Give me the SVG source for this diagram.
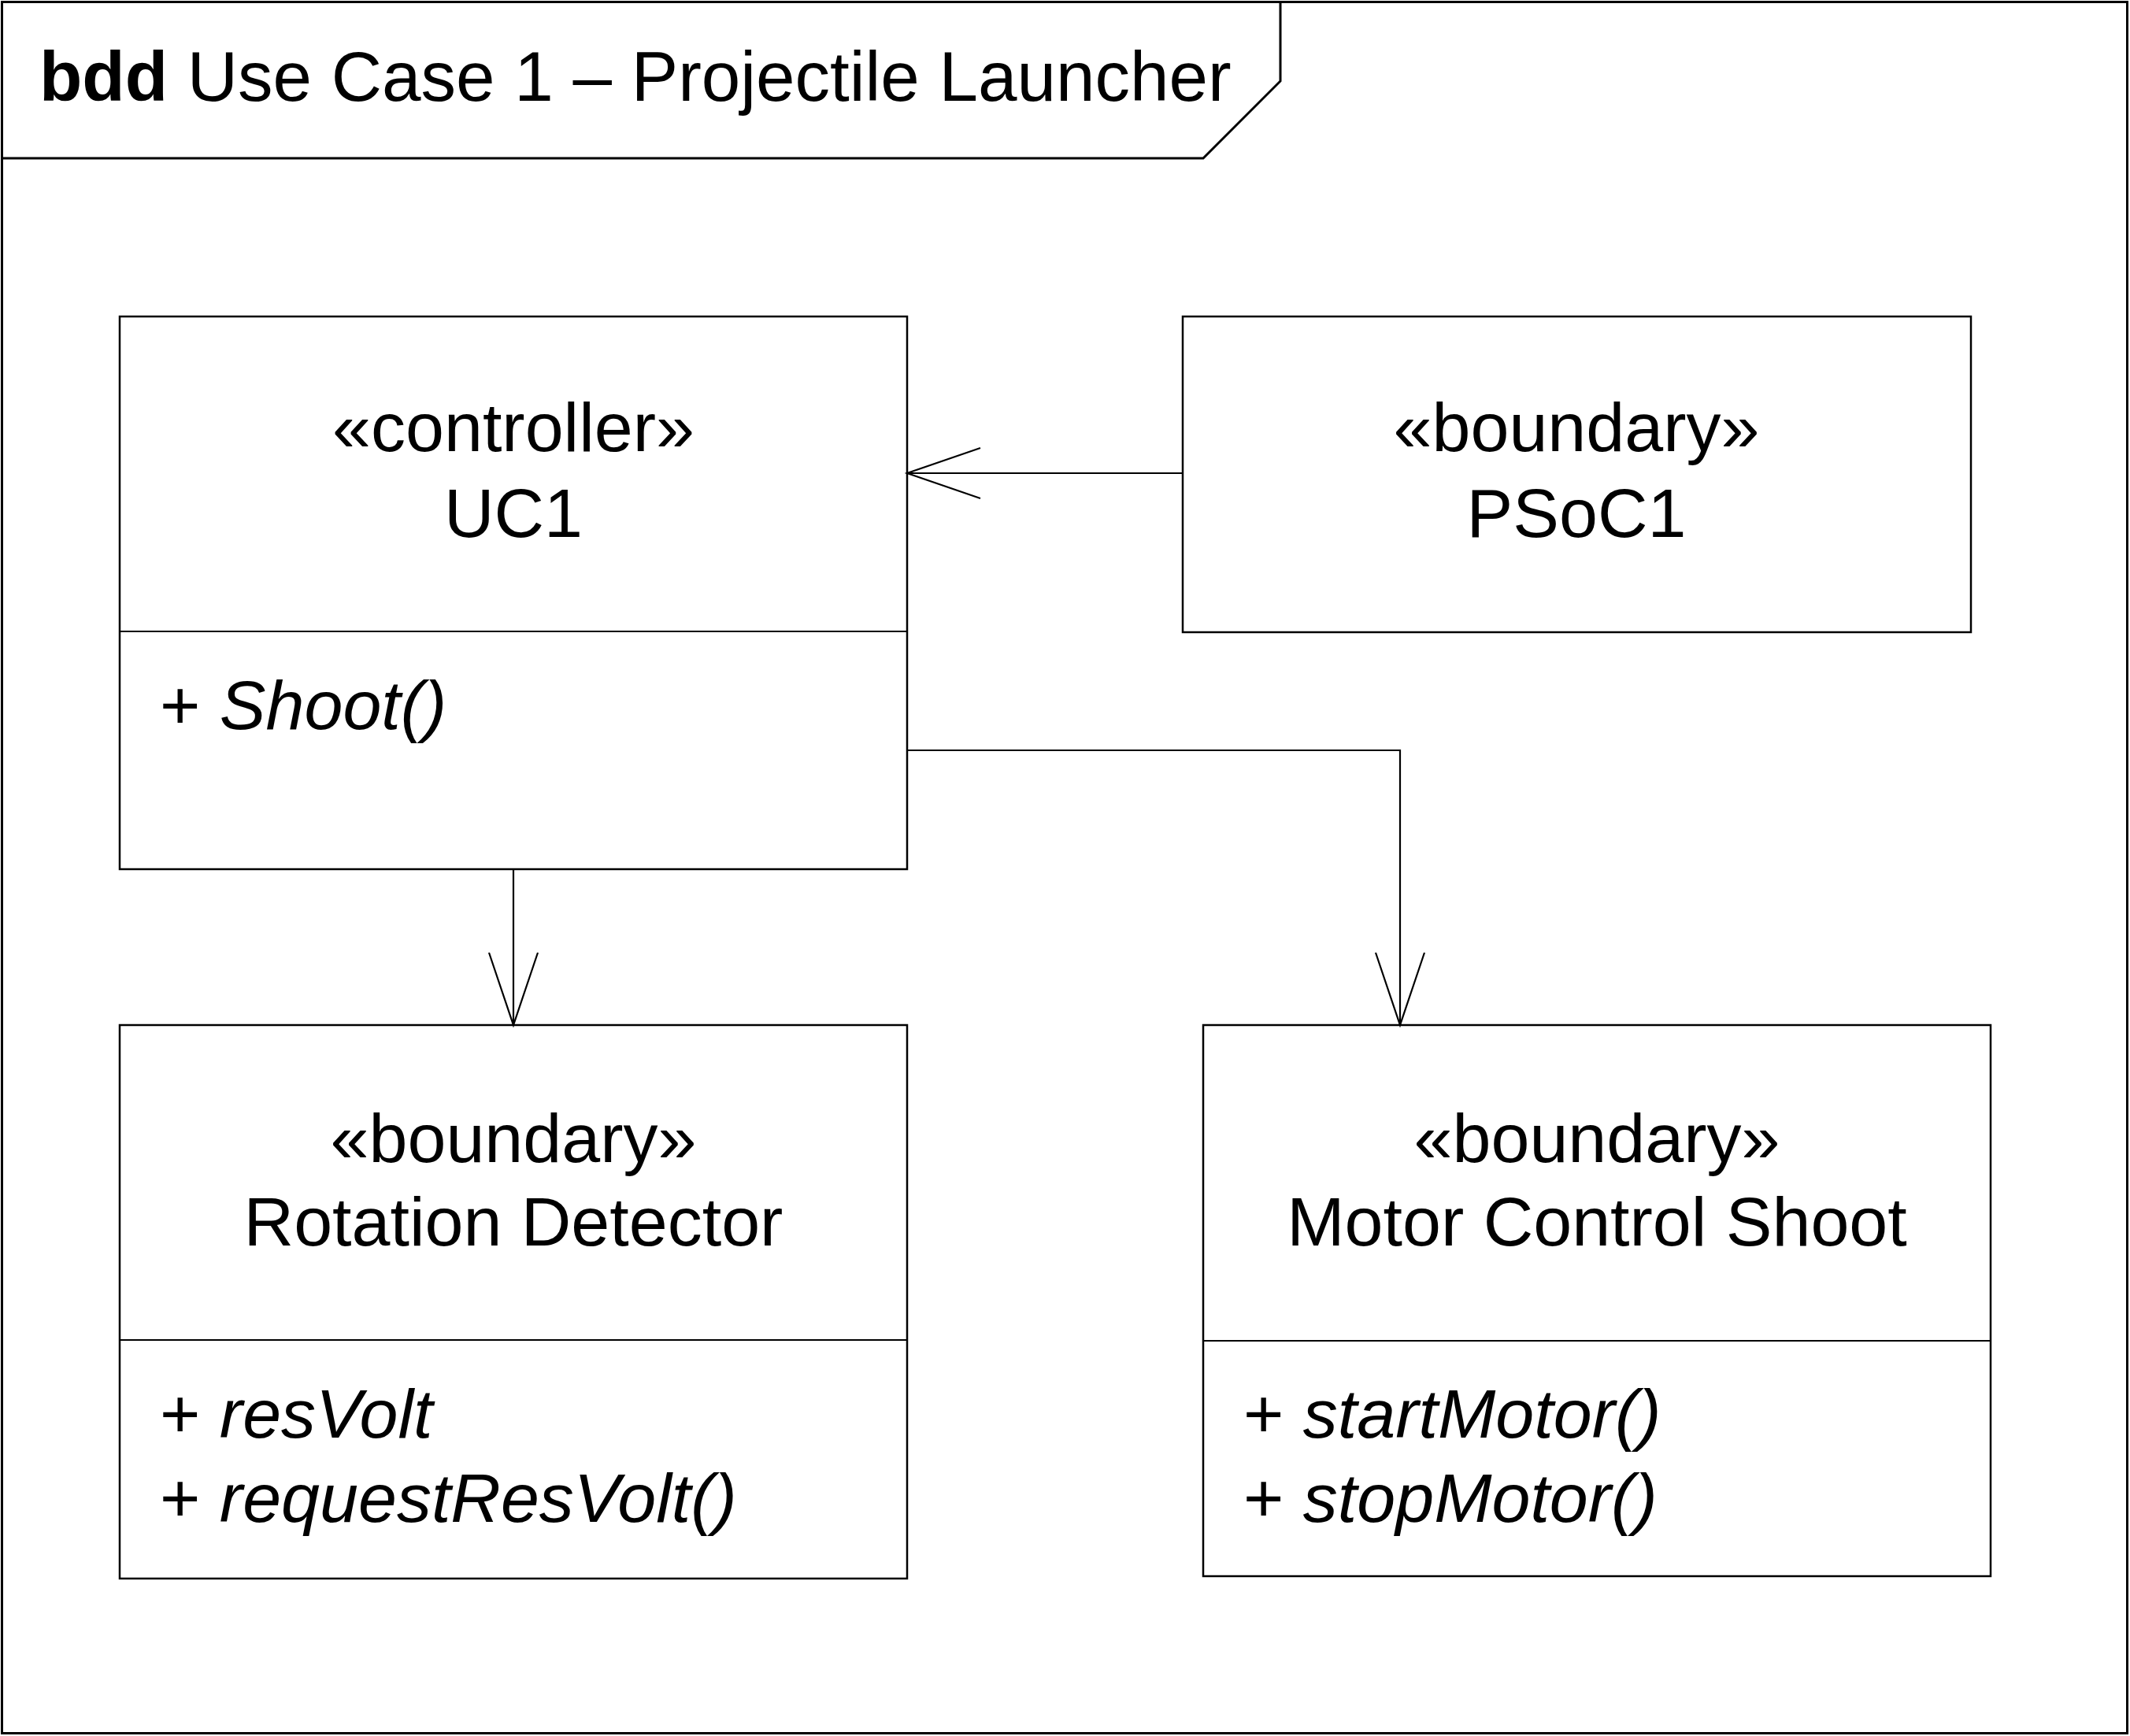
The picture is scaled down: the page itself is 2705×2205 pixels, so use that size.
<svg xmlns="http://www.w3.org/2000/svg" width="2705" height="2205" viewBox="0 0 2705 2205">
<style>
.box{fill:#fff;stroke:#000;stroke-width:2.5}
.div{stroke:#000;stroke-width:2;fill:none}
.conn{stroke:#000;stroke-width:2.2;fill:none}
text{font-family:"Liberation Sans",Arial,sans-serif;font-size:88px;fill:#000}
.c{text-anchor:middle}
.it{font-style:italic}
</style>
<rect width="2705" height="2205" fill="#fff"/>
<g id="frame">
<rect x="2.5" y="2.5" width="2699" height="2199" fill="none" stroke="#000" stroke-width="3"/>
<path d="M2.5 201 H1528 L1626 103 V2.5" fill="none" stroke="#000" stroke-width="3"/>
<text x="50" y="128" style="font-size:89px"><tspan font-weight="bold">bdd</tspan> Use Case 1 – Projectile Launcher</text>
</g>
<g id="uc1">
<rect class="box" x="152" y="402" width="1000" height="702"/>
<line class="div" x1="152" y1="802" x2="1152" y2="802"/>
<text class="c" x="652" y="573">«controller»</text>
<text class="c" x="652" y="682">UC1</text>
<text x="203" y="926">+ <tspan class="it">Shoot()</tspan></text>
</g>
<g id="psoc1">
<rect class="box" x="1502" y="402" width="1001" height="401"/>
<text class="c" x="2002" y="573">«boundary»</text>
<text class="c" x="2002" y="682">PSoC1</text>
</g>
<g id="rotation-detector">
<rect class="box" x="152" y="1302" width="1000" height="703"/>
<line class="div" x1="152" y1="1702" x2="1152" y2="1702"/>
<text class="c" x="652" y="1476">«boundary»</text>
<text class="c" x="652" y="1582">Rotation Detector</text>
<text x="203" y="1826">+ <tspan class="it">resVolt</tspan></text>
<text x="203" y="1933">+ <tspan class="it">requestResVolt()</tspan></text>
</g>
<g id="motor-control-shoot">
<rect class="box" x="1528" y="1302" width="1000" height="700"/>
<line class="div" x1="1528" y1="1703" x2="2528" y2="1703"/>
<text class="c" x="2028" y="1476">«boundary»</text>
<text class="c" x="2028" y="1582">Motor Control Shoot</text>
<text x="1579" y="1826">+ <tspan class="it">startMotor()</tspan></text>
<text x="1579" y="1933">+ <tspan class="it">stopMotor()</tspan></text>
</g>
<g id="connectors">
<path class="conn" d="M1502 601 H1152"/>
<path class="conn" d="M1245 569 L1152 601 L1245 633"/>
<path class="conn" d="M652 1104 V1302"/>
<path class="conn" d="M621 1210 L652 1302 L683 1210"/>
<path class="conn" d="M1152 953 H1778 V1302"/>
<path class="conn" d="M1747 1210 L1778 1302 L1809 1210"/>
</g>
</svg>
